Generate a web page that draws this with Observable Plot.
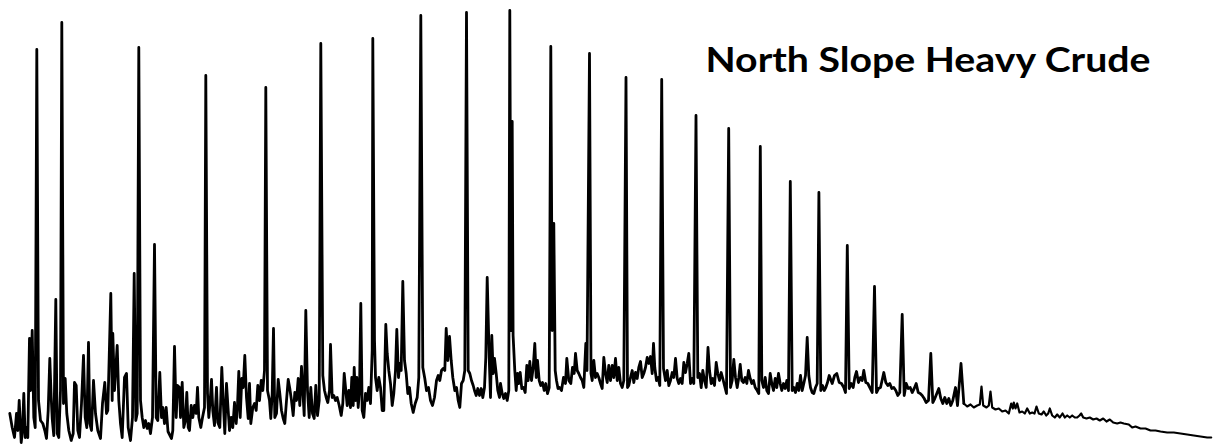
<!DOCTYPE html>
<html>
<head>
<meta charset="utf-8">
<script src="https://cdn.jsdelivr.net/npm/d3@7"></script>
<script src="https://cdn.jsdelivr.net/npm/@observablehq/plot@0.6"></script>
<style>
  html, body { margin: 0; padding: 0; background: #ffffff; }
  #chart { width: 1216px; height: 445px; overflow: hidden; }
</style>
</head>
<body>
<div id="chart"></div>
<script>
// Chromatogram: [scan, detector response]
const chartTitle = "North Slope Heavy Crude";

const earlyElution = [
  [9.3,32],[11.7,18],[14,8],[16,32],[17.3,15],[18.7,45],[20.7,3],[22,15],[23.3,52],[24.7,8],
  [26,18],[27.3,8],[29,107],[30,55],[31.7,115],[33.3,28],[34.7,18],[36.3,396],[38,45],[40,25],
  [42.3,22],[44.3,15],[46,7],[47.7,35],[49.3,87],[50.7,48],[51.7,27],[53.3,10],[55.3,146],[56.7,12],
  [58.3,8],[60,55],[61.3,423],[63,42],[64.7,67],[66.3,32],[68.3,15],[70.7,5],[72.7,12],[74,63],
  [75.7,60],[77.3,15],[79,8],[81,42],[83,90],[84.7,28],[86.3,18],[88,103],[89.3,22],[91,15],
  [93,65],[95,32],[97.3,15],[100,7],[102,42],[104.3,63],[106,32],[107.3,35],[108.7,88],[110.3,152],
  [111.7,45],[112.3,112],[114,55],[115,72],[116.7,100],[118.3,45],[120,22],[121.7,8],[124,68],[126,72],
  [127.7,18],[130,5],[132,28],[133.7,172],[135.3,25],[136.7,32],[138.3,398],[140,45],[141.7,28],[143.3,18],
  [145,25],[146.7,17],[148.3,22],[150,12],[152,28],[154,201],[155.7,28],[157.3,25],[159.3,73],[161,28],
  [162.3,38],[164,22],[165.7,38],[167.5,14],[171,7],[172.3,15],[174,99],[175.7,28],[177,60],[179,58],
  [180,28],[181.7,63],[183.3,18],[185,25],[186.3,53],[187.7,18],[189,15],[190.7,40],[192.3,28],[194,40],
  [195.7,32],[197,58],[198.3,28],[200.3,18],[202,28],[204,38],[205.3,370],[207,52],[208.3,28],[209.7,45],
  [211,66],[212.3,35],[214,20],[216,58],[217.3,23],[219.3,18],[221.3,78],[222.7,45],[224.3,12],[226,62],
  [227.7,35],[229,15],[230.7,28],[232.3,18],[234,43],[235.7,22],[237,40],[238.3,74],[239.7,28],[241.3,67],
  [242.7,58],[244.3,90],[246,48],[247.7,27],[249,62],[250.3,22],[252.3,38],[254,42],[255.7,35],[257.3,60],
  [259,45],[260.7,65],[262.3,55],[264,75],[265.3,358],[267,55],[269,45],[270.3,27],[271.7,52],[273,117],
  [274.3,28],[276,32],[277.7,66],[279.3,52],[281,35],[282.7,27],[284.3,22],[286,45],[287.7,66],[289.3,57],
  [291,45],[292.7,30],[294.3,53],[296,45],[297.7,67],[299.3,40],[301,79],[302.3,55],[303.7,30],[305.3,135],
  [307,55],[308.7,28],[310.3,58],[312,32],[313.7,27],[315.3,60],[317,30],[318.7,45],[320.3,402],[322.3,70],
  [324,55],[325.7,48],[327.3,43],[329,55],[330,101],[331.7,48],[333.3,50]
];

const midElution = [
  [335,45],[336.7,48],[338.7,40],[340.7,30],[342.3,42],[343.7,72],[345.3,55],[346.7,40],[348.3,55],[350,38],
  [351.3,68],[352.7,40],[353.7,78],[355,45],[356.3,68],[357.7,38],[359,55],[360.3,142],[361.7,35],[363.3,28],
  [365,52],[366.7,45],[368.3,58],[370,42],[371.7,95],[372.3,407],[374,105],[375,68],[376.7,55],[378.3,68],
  [380,58],[381.7,35],[383.3,35],[385.3,121],[386.7,92],[388.3,75],[390,62],[391.7,40],[393.3,52],[395,75],
  [396.3,116],[398,68],[399.3,82],[400.7,75],[402.3,164],[404,85],[405.7,72],[407.3,52],[409,58],[410.7,42],
  [412.7,33],[414.7,42],[416.7,48],[418.3,68],[420.3,430],[422.3,78],[424.3,67],[426,55],[428,58],[430,45],
  [432,40],[434,48],[436,65],[437.7,70],[439.3,65],[441,75],[442.7,77],[444.3,75],[445.7,117],[447.3,85],
  [449,109],[450.7,85],[452.3,68],[454.3,55],[456,58],[457.7,45],[459.3,38],[461,62],[462.7,65],[464.3,75],
  [466,433],[467.7,75],[469.3,72],[471,65],[472.7,60],[474,55],[475.7,50],[477.3,57],[479,50],[480.7,57],
  [482.3,48],[484,58],[485.3,88],[486.7,168],[488.7,88],[490,48],[491.3,110],[492.7,72],[494,87],[495.7,72],
  [497.3,55],[499,48],[500,62],[501.7,52],[503.3,47],[505,52],[506.7,45],[508.3,55],[509.3,435],[510.5,115],
  [511.7,324],[512.6,110],[514.3,75],[515.7,55],[517,72],[518.3,62],[519.7,73],[521.3,57],[523,58],[524.7,53],
  [526.3,80],[527.7,65],[529.3,84],[531,65],[532.7,78],[534.3,102],[535.7,68],[537,85],[538.7,65],[540.3,60],
  [542,63],[543.7,55],[545.3,62],[547,52],[548.7,58],[550.3,399],[551.7,115],[553.3,222],[554.7,75],[556,65],
  [557.5,57],[559,58],[561,55],[563,68],[565,62],[566.3,87],[568.3,65],[570.3,62],[572,78],[573.7,72],
  [575,92],[576.7,75],[578.3,72],[580,68],[581.7,65],[583.3,58],[585.3,102],[586.5,75],[589,392],[590.5,72],
  [591.7,65],[593.3,85],[595,68],[596.7,72],[598.3,68],[600,62],[601.7,57],[603.3,88],[605,72],[606.7,63],
  [608.3,80],[610,65],[611.7,80],[613.3,68],[615,87],[616.7,65],[618.3,78],[620,62],[621.7,58],[623.3,65],
  [625.5,368],[627,58],[628.3,60],[630,68],[631.7,75],[633.3,63],[635,73],[636.7,67],[638.3,78],[640,84],
  [641.7,68],[643.3,72],[645,78],[646.7,88],[648.3,82],[650,89],[651.7,72],[653,102],[654.3,78],[656,65],
  [657.7,68],[659.3,60],[661.2,366],[663,77],[665,65],[666.7,75],[668.3,60],[670,65],[671.7,73],[673.3,68]
];

const lateElution = [
  [675,87],[676.7,67],[678.3,62],[680,67],[681.7,62],[683.3,83],[685,73],[686.7,82],[688.3,92],[690,62],
  [691.7,67],[693.3,62],[695.5,330],[697.3,68],[699,72],[700.7,58],[702.3,75],[704,65],[705.7,58],[707.5,98],
  [709,75],[710.7,62],[712.3,67],[714,60],[715.7,83],[717.3,72],[719,65],[720.7,73],[722.3,67],[724,60],
  [726,52],[728.2,317],[730,58],[731.7,65],[733.3,86],[735,68],[736.7,58],[738.3,68],[739.7,81],[741.3,65],
  [743,63],[744.7,68],[746.3,62],[748,75],[749.7,67],[751.3,62],[753,65],[754.7,58],[756.7,55],[758.3,52],
  [759.8,299],[761.3,65],[763,58],[764.7,68],[766.3,55],[768,52],[769.7,72],[771.3,62],[773,55],[774.7,67],
  [776.3,58],[778,72],[779.7,62],[781.3,55],[783,62],[784.7,57],[786.3,65],[788,55],[789.8,264],[791.7,55],
  [793.3,58],[795,53],[796.7,62],[798.3,55],[800,70],[801.7,55],[803.3,62],[805,70],[806.7,108],[808.3,70],
  [810,58],[811.7,53],[813.3,52],[815,58],[816.7,62],[818.4,253],[820.3,55],[822,60],[823.7,55],[825.3,58],
  [827,63],[828.7,70],[831.7,62],[834,70],[836.3,72],[838.7,63],[841,62],[843.3,58],[845,53],[846.8,200],
  [848.7,57],[850.7,62],[852.7,58],[854.3,68],[856,74],[858,63],[860,68],[861.7,65],[863.3,75],[865.3,63],
  [867.3,62],[869.3,58],[871.7,53],[874,159],[876,53],[878,57],[880,58],[882,67],[883.3,73],[885.3,63],
  [887.3,60],[889.3,62],[891.3,57],[893.3,58],[895.3,55],[897.3,50],[899.3,53],[901.7,131],[903.7,50],[905.7,62],
  [907.7,57],[909.7,58],[911.7,53],[913.7,57],[915.7,62],[917.7,53],[919.7,52],[921.7,50],[923.7,47],[925.7,43],
  [928,45],[930.3,92],[932.3,43],[934.3,47],[936.3,52],[938.3,57],[940.3,47],[942.3,42],[944.3,48],[946.3,42],
  [948.3,47],[950.3,40],[952.3,45],[955,58],[957,40],[960.5,82],[963.3,42]
];

const tailElution = [
  [963.3,42],[966.7,39],[970,41],[973.3,38],[976.7,40],[979.3,41],[981,59],[982.7,40],[986,38],[988.3,40],[990,54],
  [991.7,38],[995,36],[998.3,37],[1001.7,34],[1005,35],[1008.3,32],[1010.7,42],[1012.3,37],[1013.3,43],[1015,37],
  [1016.7,42],[1019,33],[1021.7,34],[1024.3,32],[1026.7,37],[1029.3,32],[1031.7,33],[1034,32],[1036,39],[1038.3,32],
  [1041,31],[1043.3,34],[1045.7,30],[1047.7,32],[1049.3,37],[1051.7,30],[1054.3,28],[1056.7,31],[1059.3,28],[1062,32],
  [1064.3,28],[1066.7,30],[1069.3,28],[1071.7,30],[1074.3,28],[1076.7,28],[1079,30],[1080.7,32],[1082.7,28],[1086,27],
  [1089.3,28],[1092.7,26],[1096,27],[1099.3,25],[1102.7,27],[1106,24],[1109.3,26],[1112.7,23],[1116.7,22],[1120,23],
  [1123.3,22],[1128.3,21],[1131.7,18],[1135,19],[1140,17],[1145,17],[1150,15],[1155,15],[1160,14],[1166.7,13],
  [1173.3,13],[1180,12],[1186.7,11],[1193.3,10],[1200,9],[1206.7,8],[1210.7,8]
];

const toRows = arr => arr.map(([scan, response]) => ({scan, response}));
const mainTrace = toRows([...earlyElution, ...midElution, ...lateElution]);
const tailTrace = toRows(tailElution);

const chart = Plot.plot({
  width: 1216,
  height: 445,
  margin: 0,
  style: {background: "#ffffff"},
  x: {domain: [0, 1216], axis: null},
  y: {domain: [0, 445], axis: null},
  marks: [
    Plot.line(mainTrace, {
      x: "scan",
      y: "response",
      stroke: "#000000",
      strokeWidth: 2.8,
      strokeLinejoin: "round"
    }),
    Plot.line(tailTrace, {
      x: "scan",
      y: "response",
      stroke: "#000000",
      strokeWidth: 2.2,
      strokeLinejoin: "round"
    }),
    Plot.text([chartTitle], {
      text: d => d,
      frameAnchor: "top-right",
      textAnchor: "end",
      lineAnchor: "bottom",
      dx: -66,
      dy: 71,
      fontSize: 35,
      fontWeight: "bold",
      fontFamily: "Lato, 'Open Sans', sans-serif",
      fill: "#000000"
    })
  ]
});

document.getElementById("chart").appendChild(chart);
d3.select(chart).selectAll("text")
  .filter(function() { return this.textContent === chartTitle; })
  .attr("textLength", 445)
  .attr("lengthAdjust", "spacingAndGlyphs");
</script>
</body>
</html>
